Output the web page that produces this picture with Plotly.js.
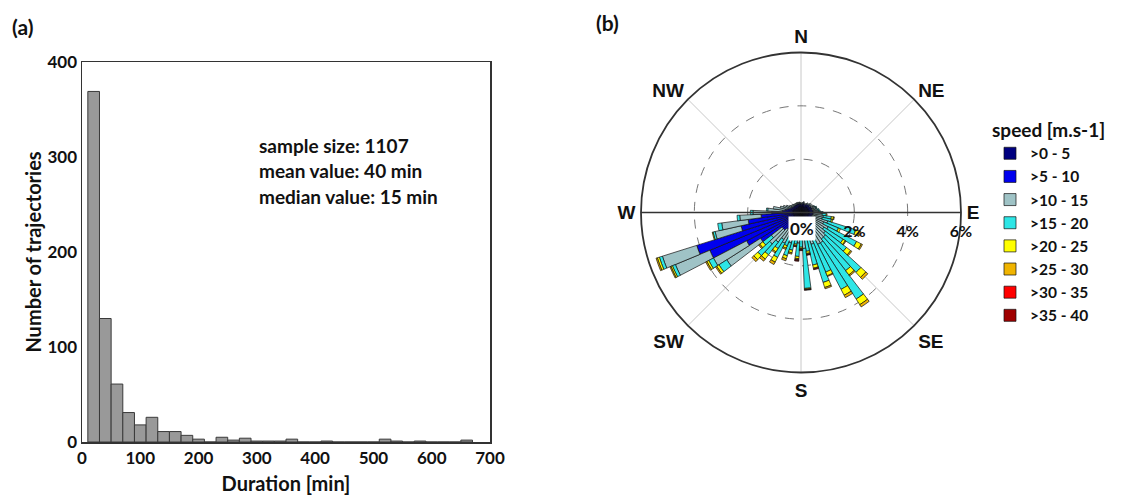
<!DOCTYPE html>
<html>
<head>
<meta charset="utf-8">
<script src="https://cdn.plot.ly/plotly-3.0.1.min.js"></script>
<style>html,body{margin:0;padding:0;background:#fff;}#chart{width:1123px;height:495px;}</style>
</head>
<body>
<div id="chart"></div>
<script>
// ---- Panel (a): duration histogram ----
const durationCenters = [20,40,60,80,100,120,140,160,180,200,220,240,260,280,300,320,340,360,380,400,420,440,460,480,500,520,540,560,580,600,620,640,660];
const trajectoryCounts = [369,130,61,31,18,26,11,11,7,3,0,5,2,4,1,1,1,3,0,0,1,0,0,0,0,3,1,0,1,0,0,0,2];
const statsLines = ["sample size: 1107", "mean value: 40 min", "median value: 15 min"];

// ---- Panel (b): wind rose (direction in compass degrees, frequency in %) ----
const directions = [0,5,10,15,20,25,30,35,40,45,50,55,60,65,70,75,80,85,90,95,100,105,110,115,120,125,130,135,140,145,150,155,160,165,170,175,180,185,190,195,200,205,210,215,220,225,230,235,240,245,250,255,260,265,270,275,280,285,290,295,300,305,310,315,320,325,330,335,340,345,350,355];
const speedLabels = [">0 - 5", ">5 - 10", ">10 - 15", ">15 - 20", ">20 - 25", ">25 - 30", ">30 - 35", ">35 - 40"];
const speedColors = ["#000080", "#0000ee", "#9fc3c6", "#2ee6e6", "#ffff00", "#f0b400", "#ff0000", "#a00000"];
const s0_5   = [.25,.22,.25,.28,.25,.22,.25,.28,.27,.30,.30,.28,.30,.30,.30,.30,.30,.30,.30,.30,.30,.30,.30,.30,.30,.30,.30,.30,.30,.30,.30,.30,.30,.30,.30,.30,.30,.30,.30,.30,.30,.30,.30,.30,.30,.30,.30,.30,.30,.30,.30,.30,.30,.30,.30,.30,.30,.30,.30,.28,.28,.26,.25,.27,.25,.24,.26,.25,.24,.25,.26,.24];
const s5_10  = [.08,.08,.10,.10,.08,.08,.10,.10,.10,.10,.12,.10,.12,.12,.14,.12,.15,.15,.15,.15,.15,.12,.15,.12,.15,.12,.15,.15,.15,.15,.15,.12,.15,.12,.12,.15,.20,.25,.20,.25,.30,.30,.40,.40,.50,.60,.60,1.5,2.0,3.4,3.8,2.0,1.7,1.2,.80,.40,.30,.20,.15,.12,.10,.10,.10,.08,.10,.10,.08,.10,.10,.08,.10,.08];
const s10_15 = [.04,.03,.03,.04,.04,.02,.03,.05,.05,.06,.08,.07,.10,.12,.15,.15,.18,.22,.30,.35,.40,.40,.60,.50,.70,.60,.70,.80,.80,.90,.90,.70,.80,.60,.50,.90,.50,.60,.40,.50,.60,.40,.60,.50,.60,.70,.50,1.5,1.4,1.4,1.35,1.0,1.0,.80,.70,.55,.45,.30,.25,.20,.12,.10,.08,.08,.06,.05,.06,.05,.06,.05,.04,.05];
const s15_20 = [0,0,0,0,0,0,0,0,0,0,0,0,0,.02,.03,.03,.05,.05,.08,.15,.30,.35,1.1,.60,1.2,.85,1.0,1.8,1.5,2.5,1.9,1.3,1.5,1.0,.55,1.5,.30,.50,.30,.40,.50,.35,.60,.40,.60,.60,.40,.35,.20,.12,.12,.08,.15,.10,.10,.05,0,0,0,0,0,0,0,0,0,0,0,0,0,0,0,0];
const s20_25 = [0,0,0,0,0,0,0,0,0,0,0,0,0,0,0,0,0,0,0,.03,.08,.05,.15,.08,.20,.10,.20,.25,.20,.25,.25,.15,.20,.12,.08,.03,.05,.08,.05,.10,.12,.10,.20,.15,.20,.20,.15,.10,.08,.06,.08,.03,0,0,0,0,0,0,0,0,0,0,0,0,0,0,0,0,0,0,0,0];
const s25_30 = [0,0,0,0,0,0,0,0,0,0,0,0,0,0,0,0,0,0,0,0,.03,0,.05,0,.05,.03,.05,.10,.05,.10,.10,.03,.05,.03,.03,.02,.03,.04,.03,.05,.08,.05,.10,.05,.10,.10,.05,.05,.05,.04,.05,0,0,0,0,0,0,0,0,0,0,0,0,0,0,0,0,0,0,0,0,0];
const s30_35 = [0,0,0,0,0,0,0,0,0,0,0,0,0,0,0,0,0,0,0,0,0,0,0,0,0,0,0,0,0,0,0,0,0,.03,.02,0,.02,.03,.02,0,0,0,0,0,0,0,0,0,0,0,0,0,0,0,0,0,0,0,0,0,0,0,0,0,0,0,0,0,0,0,0,0];
const s35_40 = [0,0,0,0,0,0,0,0,0,0,0,0,0,0,0,0,0,0,0,0,0,0,0,0,0,0,0,0,0,0,0,0,0,0,.02,.02,.03,.03,0,0,0,0,0,0,0,0,0,0,0,0,0,0,0,0,0,0,0,0,0,0,0,0,0,0,0,0,0,0,0,0,0,0];
const speedSeries = [s0_5, s5_10, s10_15, s15_20, s20_25, s25_30, s30_35, s35_40];
const compassVals = [0,45,90,135,180,225,270,315];
const compassText = ["N","NE","E","SE","S","SW","W","NW"];
const radialVals = [0,2,4,6];
const radialText = ["","2%","4%","6%"];

const FONT = "Lato, 'Open Sans', sans-serif";
const traces = [];

traces.push({
  type: "bar", x: durationCenters, y: trajectoryCounts, width: 20,
  marker: {color: "#999999", line: {color: "#3a3a3a", width: 1}},
  showlegend: false, hoverinfo: "x+y", xaxis: "x", yaxis: "y"
});

// West half of the E-W axis line
traces.push({
  type: "scatterpolar", subplot: "polar", r: [0, 6], theta: [270, 270], mode: "lines",
  line: {color: "#333", width: 1.5}, showlegend: false, hoverinfo: "skip"
});

speedSeries.forEach((vals, i) => {
  traces.push({
    type: "barpolar", subplot: "polar", r: vals, theta: directions, width: 5,
    name: speedLabels[i], legendgroup: "g" + i,
    marker: {color: speedColors[i], line: {color: "#111", width: 0.7}}
  });
});

const annotations = [
  {text: "(a)", x: 22/1123, y: 1 - 26/495, xref: "paper", yref: "paper", xanchor: "center", yanchor: "middle", showarrow: false,
   font: {family: FONT, size: 21, color: "#111", weight: "bold"}},
  {text: "(b)", x: 607/1123, y: 1 - 23/495, xref: "paper", yref: "paper", xanchor: "center", yanchor: "middle", showarrow: false,
   font: {family: FONT, size: 21, color: "#111", weight: "bold"}},
  {text: "0%", x: 801.5/1123, y: 1 - 228/495, xref: "paper", yref: "paper", xanchor: "center", yanchor: "middle", showarrow: false,
   bgcolor: "#ffffff", borderpad: 1, font: {family: FONT, size: 17, color: "#111", weight: "bold"}}
];
statsLines.forEach((t, i) => {
  annotations.push({text: t, x: 257/1123, y: 1 - (145 + i*25.5)/495, xref: "paper", yref: "paper",
    xanchor: "left", yanchor: "middle", showarrow: false, font: {family: FONT, size: 19, color: "#111", weight: "bold"}});
});

const layout = {
  width: 1123, height: 495,
  margin: {l: 0, r: 0, t: 0, b: 0},
  paper_bgcolor: "#fff", plot_bgcolor: "#fff",
  font: {family: FONT, color: "#111"},
  bargap: 0,
  xaxis: {
    domain: [82/1123, 490/1123], range: [0, 700], dtick: 100, tick0: 0,
    showgrid: false, zeroline: false, showline: true, mirror: true, linecolor: "#333", linewidth: 1.5,
    ticks: "", tickfont: {family: FONT, size: 17, weight: "bold", color: "#111"},
    title: {text: "Duration [min]", standoff: 12, font: {family: FONT, size: 20, weight: "bold", color: "#111"}}
  },
  yaxis: {
    domain: [53/495, 433/495], range: [0, 400], dtick: 100, tick0: 0,
    showgrid: false, zeroline: false, showline: true, mirror: true, linecolor: "#333", linewidth: 1.5,
    ticks: "", tickfont: {family: FONT, size: 17, weight: "bold", color: "#111"},
    title: {text: "Number of trajectories", standoff: 0, font: {family: FONT, size: 20, weight: "bold", color: "#111"}}
  },
  polar: {
    domain: {x: [641/1123, 961/1123], y: [122.5/495, 442.5/495]},
    bgcolor: "#fff", barmode: "stack", bargap: 0,
    angularaxis: {
      rotation: 90, direction: "clockwise", tickmode: "array", tickvals: compassVals, ticktext: compassText,
      showline: true, linecolor: "#333", linewidth: 1.8, showgrid: true, gridcolor: "#c8c8c8", gridwidth: 1,
      ticks: "outside", ticklen: 1, tickcolor: "rgba(0,0,0,0)",
      tickfont: {family: "'Liberation Sans', Arial, sans-serif", size: 19, weight: "bold", color: "#111"}
    },
    radialaxis: {
      range: [0, 6], tickmode: "array", tickvals: radialVals, ticktext: radialText, angle: 0, side: "clockwise",
      tickangle: 0, showline: true, linecolor: "#333", linewidth: 1.5, showgrid: true, gridcolor: "#777",
      griddash: "dash", gridwidth: 1, ticks: "outside", ticklen: 5, tickcolor: "rgba(0,0,0,0)",
      tickfont: {family: FONT, size: 16, weight: "bold", color: "#111"}
    }
  },
  legend: {
    x: 990/1123, y: 1 - 112/495, xanchor: "left", yanchor: "top",
    bgcolor: "rgba(0,0,0,0)", tracegroupgap: 7.8, itemwidth: 30, traceorder: "normal",
    font: {family: FONT, size: 15.5, weight: "bold", color: "#111"},
    title: {text: "speed [m.s-1]", font: {family: FONT, size: 19, weight: "bold", color: "#111"}}
  },
  annotations: annotations
};

Plotly.newPlot("chart", traces, layout, {displayModeBar: false, staticPlot: true});
</script>
</body>
</html>
